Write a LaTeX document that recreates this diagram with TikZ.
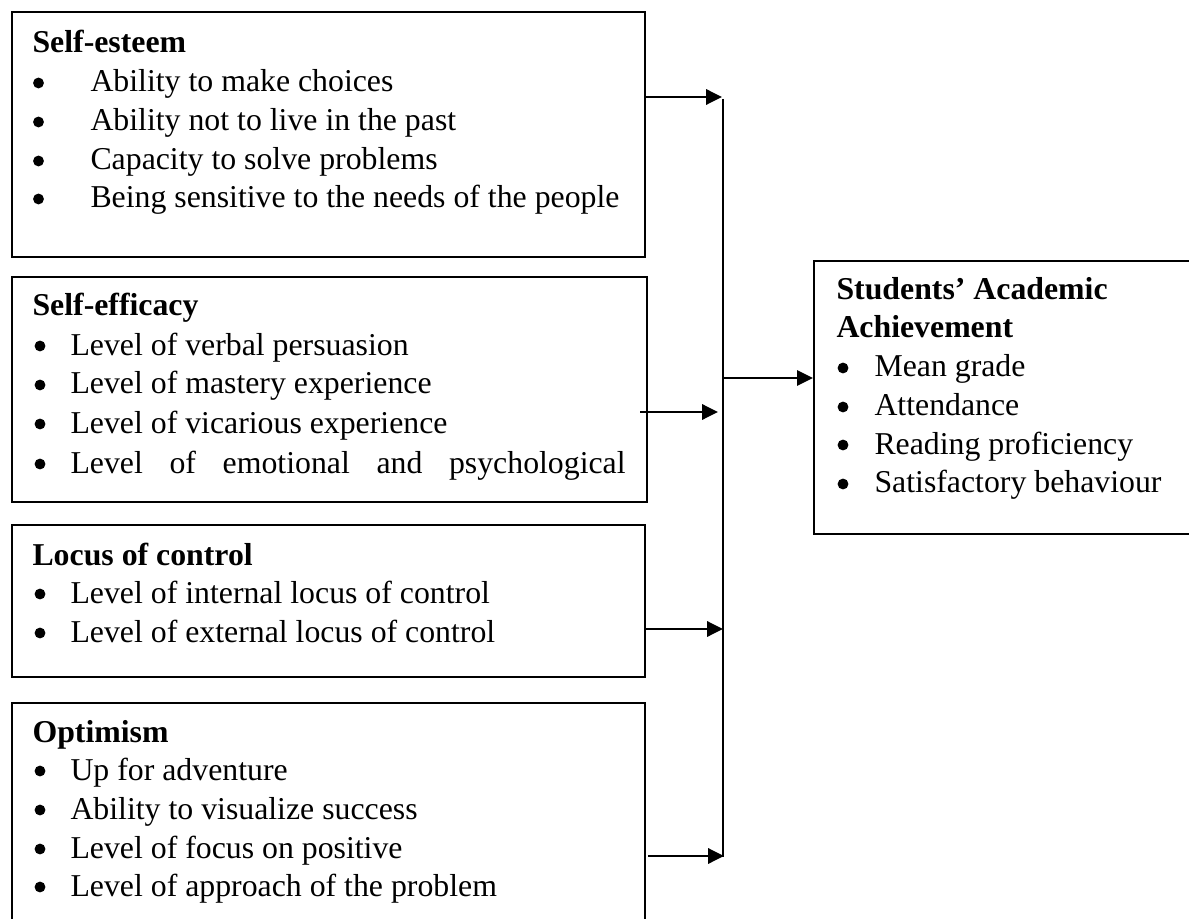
\documentclass[tikz,border=0pt]{standalone}
\usepackage{fontspec}
\setmainfont{Liberation Serif}
\usetikzlibrary{arrows.meta,fit}
\tikzset{
  box/.style={draw, line width=0.8pt, inner sep=0pt, fit=#1},
  txt/.style={anchor=base west, inner sep=0pt, font=\fontsize{12}{14}\selectfont},
  hd/.style={txt, font=\fontsize{12}{14}\selectfont\bfseries},
  bul/.style={circle, fill=black, inner sep=0pt, minimum size=4.1pt},
  conn/.style={line width=0.75pt},
  arr/.style={conn, -{Triangle[length=6pt,width=5.8pt]}}
}
\begin{document}
\begin{tikzpicture}[x=0.3774pt,y=-0.3774pt]
\useasboundingbox (0,0) rectangle (1189,919);
% box corners
\coordinate (a1) at (12,12);  \coordinate (a2) at (645,257);
\coordinate (b1) at (12,277); \coordinate (b2) at (647,502);
\coordinate (c1) at (12,525); \coordinate (c2) at (645,677);
\coordinate (d1) at (12,703); \coordinate (d2) at (645,926);
\coordinate (e1) at (814,261); \coordinate (e2) at (1192,534);
\node[box={(a1)(a2)}] (se) {};
\node[box={(b1)(b2)}] (sf) {};
\node[box={(c1)(c2)}] (lc) {};
\node[box={(d1)(d2)}] (op) {};
\node[box={(e1)(e2)}] (aa) {};
% Self-esteem
\node[hd] (seh) at (32,53) {Self-esteem};
\foreach \y/\t [count=\i] in {92/Ability to make choices,131/Ability not to live in the past,170/Capacity to solve problems,208/Being sensitive to the needs of the people}{
  \node[bul] (seb\i) at (38.5,\y-9) {};
  \node[txt] (set\i) at (90,\y) {\t};
}
% Self-efficacy
\node[hd] (sfh) at (32,316) {Self-efficacy};
\foreach \y/\t [count=\i] in {355/Level of verbal persuasion,394/Level of mastery experience,433/Level of vicarious experience}{
  \node[bul] (sfb\i) at (40,\y-9) {};
  \node[txt] (sft\i) at (70,\y) {\t};
}
\node[bul] (sfb4) at (40,464) {};
\node[txt] (sft4) at (70,473) {\hbox to 209.5pt{Level\hfill of\hfill emotional\hfill and\hfill psychological}};
% Locus of control
\node[hd] (lch) at (32,565) {Locus of control};
\foreach \y/\t [count=\i] in {603/Level of internal locus of control,642/Level of external locus of control}{
  \node[bul] (lcb\i) at (40,\y-9) {};
  \node[txt] (lct\i) at (70,\y) {\t};
}
% Optimism
\node[hd] (oph) at (32,742) {Optimism};
\foreach \y/\t [count=\i] in {780/Up for adventure,819/Ability to visualize success,858/Level of focus on positive,896/Level of approach of the problem}{
  \node[bul] (opb\i) at (40,\y-9) {};
  \node[txt] (opt\i) at (70,\y) {\t};
}
% Students' Academic Achievement
\node[hd] (aah1) at (836,300) {Students’ Academic};
\node[hd] (aah2) at (836,338) {Achievement};
\foreach \y/\t [count=\i] in {377/Mean grade,416/Attendance,454/Reading proficiency,493/Satisfactory behaviour}{
  \node[bul] (aab\i) at (843,\y-9) {};
  \node[txt] (aat\i) at (874,\y) {\t};
}
% connectors
\coordinate (vt) at (723,99);
\coordinate (vb) at (723,857);
\coordinate (j1) at (722,97);
\coordinate (s2) at (640,412);
\coordinate (j2) at (718,412);
\coordinate (j3) at (723,629);
\coordinate (s4) at (648,856);
\coordinate (j4) at (724,856);
\coordinate (j5) at (723,378);
\draw[conn] (vt) -- (vb);
\draw[arr] (se.east |- j1) -- (j1);
\draw[arr] (s2) -- (j2);
\draw[arr] (lc.east |- j3) -- (j3);
\draw[arr] (s4) -- (j4);
\draw[arr] (j5) -- (aa.west |- j5);
\end{tikzpicture}
\end{document}
